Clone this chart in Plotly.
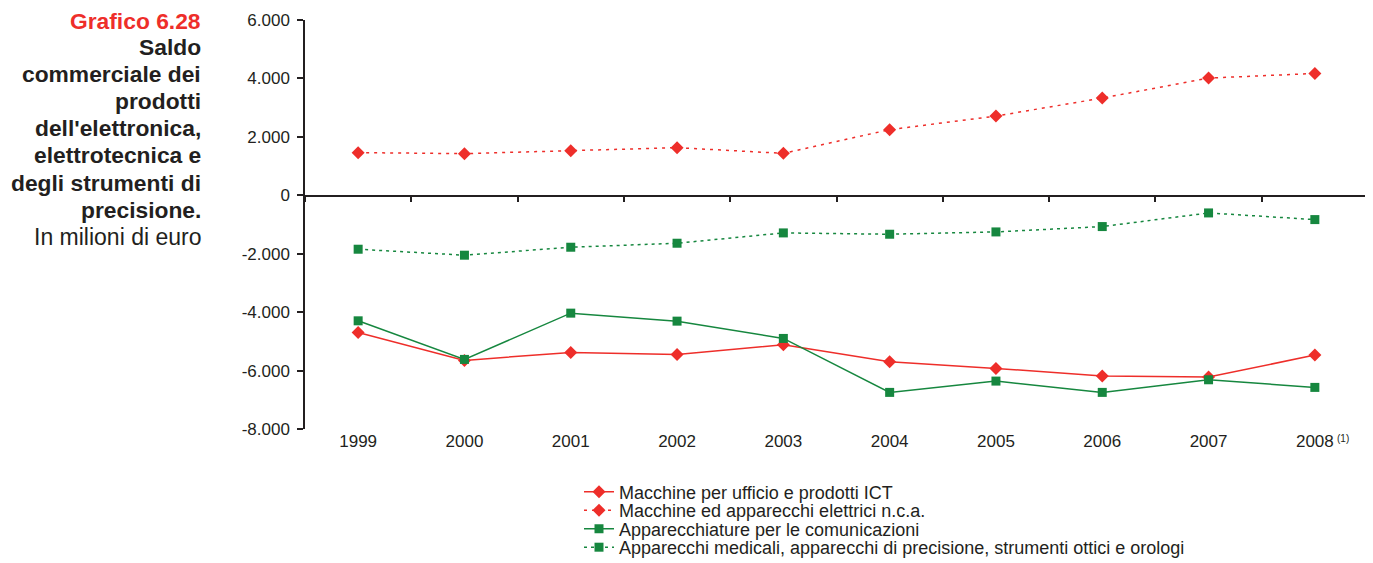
import plotly.graph_objects as go

anni = ["1999", "2000", "2001", "2002", "2003", "2004", "2005", "2006", "2007", "2008"]

ufficio_ict = [-4695, -5652, -5378, -5447, -5117, -5698, -5926, -6189, -6223, -5470]
elettrici = [1460, 1425, 1528, 1630, 1436, 2246, 2712, 3328, 4011, 4171]
comunicazioni = [-4297, -5618, -4034, -4308, -4900, -6747, -6360, -6747, -6315, -6576]
medicali = [-1846, -2051, -1778, -1641, -1288, -1333, -1254, -1071, -604, -832]

y_ticks = [6000, 4000, 2000, 0, -2000, -4000, -6000, -8000]
y_labels = ["6.000", "4.000", "2.000", "0", "-2.000", "-4.000", "-6.000", "-8.000"]

titolo = ["Saldo", "commerciale dei", "prodotti", "dell'elettronica,",
          "elettrotecnica e", "degli strumenti di", "precisione."]

ROSSO = "#ee2e2a"
VERDE = "#16873f"
TESTO = "#231f20"
FONT = "Liberation Sans, Arial, sans-serif"

# la pagina ha un margine di 8px attorno al grafico
OFF = 8
W, H = 1373 - OFF, 563 - OFF
L, R, T, B = 305 - OFF, 5, 20 - OFF, 134
pw, ph = W - L - R, H - T - B

def px_x(x):
    return (x - OFF - L) / pw

def px_y(y):
    return (H - B - (y - OFF)) / ph

idx = list(range(len(anni)))

serie = [
    ("Macchine per ufficio e prodotti ICT", ufficio_ict, ROSSO, "solid", "diamond", 10),
    ("Macchine ed apparecchi elettrici n.c.a.", elettrici, ROSSO, "3px,5px", "diamond", 10),
    ("Apparecchiature per le comunicazioni", comunicazioni, VERDE, "solid", "square", 9),
    ("Apparecchi medicali, apparecchi di precisione, strumenti ottici e orologi", medicali,
     VERDE, "3px,4px", "square", 9),
]
righe_legenda = [492, 510.5, 529, 547.5]

fig = go.Figure()
layout_legende = {}
for i, (nome, valori, colore, tratto, simbolo, dim) in enumerate(serie):
    leg = "legend" if i == 0 else "legend%d" % (i + 1)
    fig.add_trace(go.Scatter(x=idx, y=valori, name=nome, mode="lines+markers",
                             line=dict(color=colore, width=1.5, dash=tratto),
                             marker=dict(symbol=simbolo, size=dim, color=colore),
                             legend=leg))
    layout_legende[leg] = dict(x=px_x(579), y=px_y(righe_legenda[i]), xanchor="left",
                               yanchor="middle", font=dict(size=18, color=TESTO),
                               bgcolor="rgba(0,0,0,0)")

# traccia vuota per l'asse delle etichette in basso
fig.add_trace(go.Scatter(x=[None], y=[None], xaxis="x2", showlegend=False, hoverinfo="skip"))

xr = [-0.5, len(anni) - 0.5]
yr = [-8000, 6000]

fig.update_layout(
    width=W, height=H,
    margin=dict(l=L, r=R, t=T, b=B, autoexpand=False),
    paper_bgcolor="white", plot_bgcolor="white",
    font=dict(family=FONT, size=17, color=TESTO),
    showlegend=True,
    xaxis=dict(range=xr, anchor="free", position=px_y(196),
               showline=True, linecolor=TESTO, linewidth=1.5,
               ticks="outside", ticklen=5, tickcolor=TESTO, tickwidth=1.5,
               tickvals=[i - 0.5 for i in range(len(anni) + 1)],
               showticklabels=False, showgrid=False, zeroline=False),
    xaxis2=dict(range=xr, overlaying="x", anchor="y", side="bottom",
                tickvals=idx, ticktext=anni, ticks="", showline=False,
                showgrid=False, zeroline=False, tickfont=dict(size=17, color=TESTO)),
    yaxis=dict(range=yr, tickvals=y_ticks, ticktext=y_labels,
               showline=True, linecolor=TESTO, linewidth=1.5,
               ticks="outside", ticklen=6, tickcolor=TESTO, tickwidth=1.5,
               ticklabelstandoff=4,
               showgrid=False, zeroline=False, tickfont=dict(size=17, color=TESTO)),
    **layout_legende,
)

ann = [dict(text="<b>Grafico 6.28</b>", font=dict(size=22.8, color=ROSSO), py=20.5)]
for i, riga in enumerate(titolo):
    ann.append(dict(text="<b>" + riga + "</b>", font=dict(size=22.8, color=TESTO), py=46.5 + i * 27.2)) 
ann.append(dict(text="In milioni di euro", font=dict(size=23, color=TESTO), py=237))
for a in ann:
    fig.add_annotation(x=px_x(202), y=px_y(a["py"]), xref="paper", yref="paper",
                       xanchor="right", yanchor="middle", showarrow=False, borderpad=0,
                       text=a["text"], font=dict(family=FONT, **a["font"]))

fig.add_annotation(x=len(anni) - 1, y=px_y(438), xref="x", yref="paper", xshift=20,
                   xanchor="left", yanchor="middle", showarrow=False,
                   text="(1)", font=dict(family=FONT, size=10, color=TESTO))

fig.write_html("out.html")
